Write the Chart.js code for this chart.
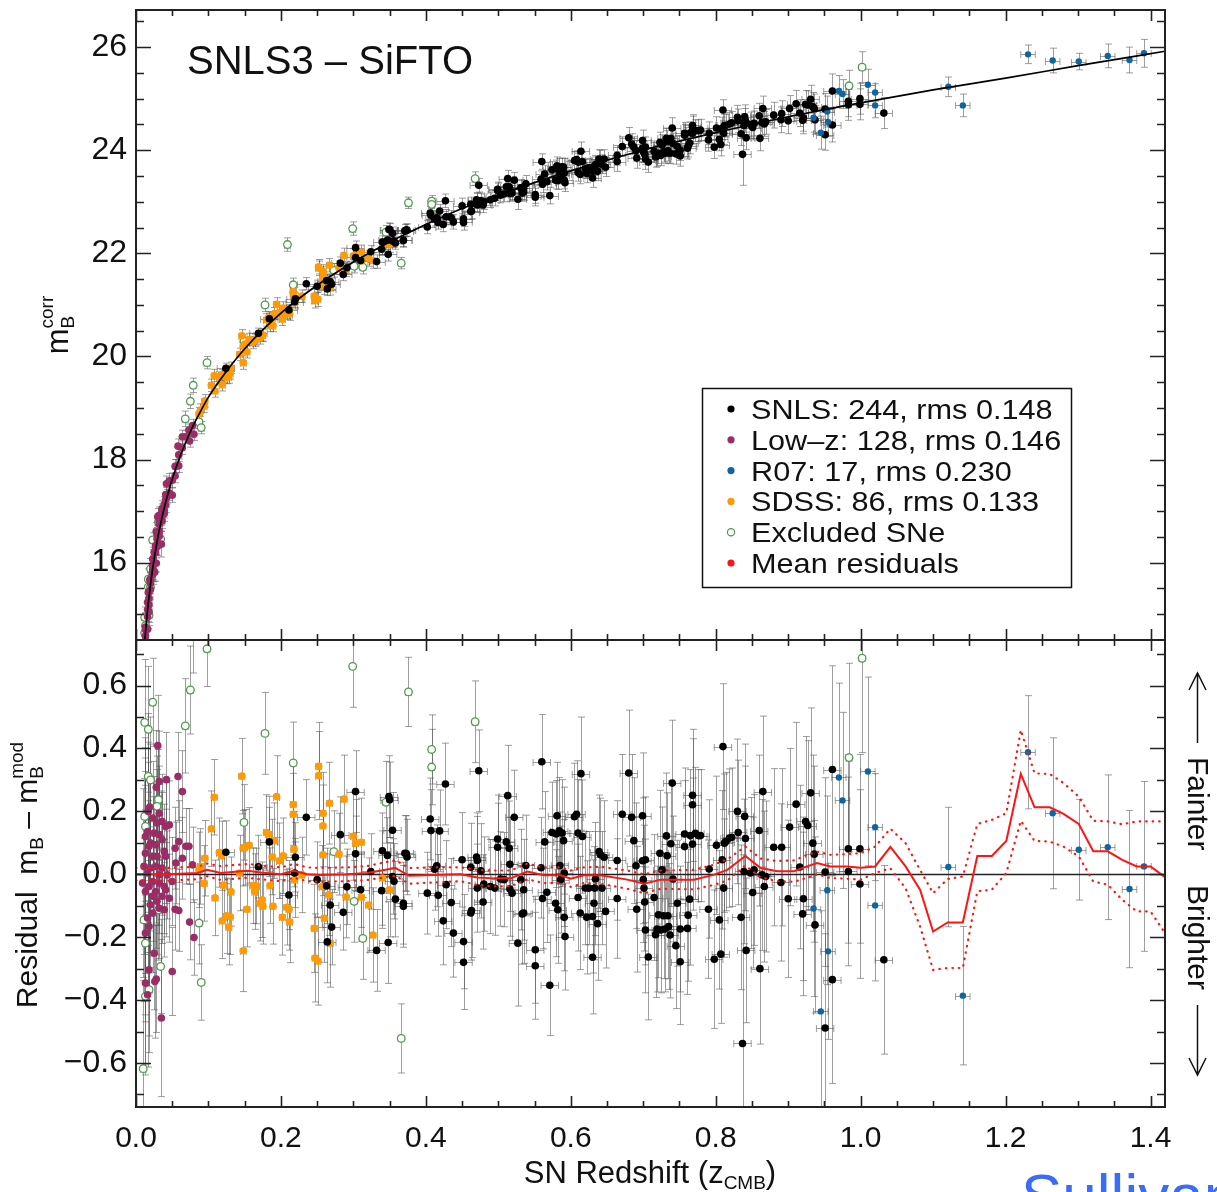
<!DOCTYPE html>
<html>
<head>
<meta charset="utf-8">
<title>SNLS3 - SiFTO Hubble diagram</title>
<script src="https://cdn.jsdelivr.net/npm/chart.js@4.4.0/dist/chart.umd.min.js"></script>
<style>
  html, body { margin: 0; padding: 0; background: #fff; }
  #wrap { position: relative; width: 1217px; height: 1192px; overflow: hidden; background: #fff; }
  #topChart { position: absolute; left: 0; top: 0; }
  #botChart { position: absolute; left: 0; top: 630px; }
</style>
</head>
<body>
<div id="wrap">
  <canvas id="topChart" width="1217" height="650"></canvas>
  <canvas id="botChart" width="1217" height="562"></canvas>
</div>
<script>
(function() {

  var FONT = "'Liberation Sans', Arial, Helvetica, sans-serif";

  // axis ticks
  var zTicks = [0.0, 0.2, 0.4, 0.6, 0.8, 1.0, 1.2, 1.4];
  var magTicks = [16, 18, 20, 22, 24, 26];
  var resTicks = [-0.6, -0.4, -0.2, 0.0, 0.2, 0.4, 0.6];

  var legendLabels = ['SNLS: 244, rms 0.148', 'Low\u2013z: 128, rms 0.146', 'R07: 17, rms 0.230',
    'SDSS: 86, rms 0.133', 'Excluded SNe', 'Mean residuals'];

  // model curve (z, m_B)
  var curveZ = [0.009, 0.010, 0.011, 0.012, 0.013, 0.015, 0.017, 0.020, 0.023, 0.025, 0.028, 0.030, 0.035,
    0.040, 0.045, 0.050, 0.060, 0.070, 0.080, 0.090, 0.100, 0.120, 0.150, 0.200, 0.250, 0.300, 0.350,
    0.400, 0.450, 0.500, 0.600, 0.700, 0.800, 0.900, 1.000, 1.100, 1.200, 1.300, 1.420];
  var curveMag = [13.83, 14.06, 14.27, 14.46, 14.63, 14.95, 15.22, 15.58, 15.89, 16.07, 16.32, 16.48, 16.82,
    17.12, 17.38, 17.62, 18.03, 18.38, 18.69, 18.96, 19.21, 19.62, 20.15, 20.84, 21.38, 21.83, 22.22,
    22.56, 22.87, 23.13, 23.60, 24.00, 24.34, 24.65, 24.92, 25.17, 25.40, 25.64, 25.92];

  // binned mean residuals and their +/- 1 sigma band
  var meanZ = [0.0, 0.043, 0.085, 0.098, 0.117, 0.154, 0.172, 0.2, 0.218, 0.236, 0.255, 0.291, 0.319, 0.358,
    0.377, 0.411, 0.448, 0.471, 0.494, 0.517, 0.540, 0.563, 0.586, 0.600, 0.618, 0.641, 0.678, 0.701, 0.724,
    0.770, 0.797, 0.816, 0.841, 0.862, 0.885, 0.908, 0.922, 0.940, 0.958, 0.981, 1.0, 1.020, 1.041, 1.062,
    1.082, 1.100, 1.120, 1.141, 1.161, 1.181, 1.201, 1.221, 1.240, 1.261, 1.280, 1.301, 1.321, 1.341, 1.361,
    1.381, 1.400, 1.420];
  var meanRes = [0.0, 0.0, 0.004, 0.014, 0.004, 0.011, 0.006, 0.0, 0.011, 0.0, -0.002, 0.0, 0.004, 0.02,
    -0.005, -0.002, 0.0, -0.01, -0.013, -0.013, 0.009, -0.003, -0.003, -0.014, -0.003, -0.003, -0.017, -0.030,
    -0.017, -0.017, -0.002, 0.014, 0.058, 0.020, 0.010, 0.010, 0.022, 0.036, 0.025, 0.025, 0.021, 0.025, 0.087,
    0.025, -0.049, -0.182, -0.153, -0.153, 0.058, 0.058, 0.106, 0.319, 0.213, 0.213, 0.192, 0.160, 0.073,
    0.073, 0.046, 0.025, 0.025, -0.009];
  var meanHi = [0.02, 0.02, 0.024, 0.034, 0.026, 0.033, 0.028, 0.022, 0.033, 0.022, 0.02, 0.022, 0.026, 0.045,
    0.02, 0.022, 0.022, 0.014, 0.012, 0.012, 0.034, 0.022, 0.022, 0.012, 0.022, 0.024, 0.012, 0.0, 0.012,
    0.014, 0.03, 0.048, 0.088, 0.05, 0.042, 0.044, 0.058, 0.072, 0.062, 0.064, 0.067, 0.088, 0.145, 0.099,
    0.014, -0.06, -0.015, -0.007, 0.16, 0.173, 0.194, 0.459, 0.321, 0.319, 0.29, 0.247, 0.17, 0.168, 0.159,
    0.168, 0.168, 0.168];
  var meanLo = [-0.02, -0.02, -0.016, -0.006, -0.018, -0.011, -0.016, -0.022, -0.011, -0.022, -0.024, -0.022,
    -0.018, -0.005, -0.03, -0.026, -0.022, -0.034, -0.038, -0.038, -0.016, -0.028, -0.028, -0.04, -0.028,
    -0.03, -0.046, -0.06, -0.046, -0.048, -0.034, -0.02, 0.028, -0.01, -0.022, -0.024, -0.014, 0.0, -0.012,
    -0.014, -0.017, 0.004, 0.019, -0.044, -0.166, -0.304, -0.298, -0.298, -0.054, -0.049, 0.004, 0.17, 0.106,
    0.104, 0.088, 0.057, -0.023, -0.033, -0.081, -0.118, -0.118, -0.187];

  // supernovae: [z, m_B corr, residual, error]
  var lowzPts = [
    [0.030,16.89,0.409,0.16],[0.058,18.26,0.311,0.14],[0.042,17.53,0.301,0.15],[0.028,16.60,0.277,0.18],
    [0.032,16.92,0.295,0.16],[0.064,18.44,0.263,0.13],[0.019,15.67,0.214,0.20],[0.017,15.42,0.200,0.22],
    [0.032,16.81,0.194,0.15],[0.023,16.07,0.179,0.18],[0.029,16.56,0.163,0.17],[0.036,17.05,0.168,0.15],
    [0.046,17.59,0.157,0.14],[0.041,17.32,0.152,0.14],[0.016,15.23,0.136,0.22],[0.025,16.20,0.131,0.18],
    [0.032,16.75,0.126,0.16],[0.013,14.75,0.120,0.25],[0.036,16.99,0.110,0.15],[0.059,18.09,0.104,0.13],
    [0.020,15.68,0.099,0.20],[0.027,16.33,0.094,0.18],[0.018,15.44,0.089,0.21],[0.054,17.87,0.083,0.13],
    [0.069,18.44,0.089,0.12],[0.073,18.57,0.089,0.12],[0.039,17.13,0.073,0.15],[0.013,14.70,0.067,0.26],
    [0.023,15.95,0.057,0.19],[0.029,16.46,0.057,0.17],[0.041,17.23,0.057,0.15],[0.055,17.87,0.036,0.13],
    [0.064,18.23,0.051,0.13],[0.078,18.66,0.030,0.12],[0.011,14.30,0.025,0.28],[0.020,15.60,0.020,0.20],
    [0.027,16.27,0.025,0.18],[0.036,16.90,0.020,0.15],[0.016,15.09,0.004,0.23],[0.032,16.62,-0.002,0.16],
    [0.043,17.28,-0.002,0.14],[0.023,15.87,-0.023,0.19],[0.009,13.80,-0.028,0.30],[0.032,16.59,-0.028,0.16],
    [0.018,15.31,-0.039,0.21],[0.039,17.02,-0.039,0.15],[0.050,17.60,-0.023,0.14],[0.013,14.58,-0.055,0.26],
    [0.027,16.19,-0.055,0.18],[0.041,17.12,-0.049,0.15],[0.023,15.82,-0.070,0.19],[0.036,16.81,-0.070,0.15],
    [0.046,17.35,-0.076,0.14],[0.029,16.31,-0.086,0.17],[0.020,15.48,-0.097,0.20],[0.032,16.51,-0.108,0.16],
    [0.039,16.95,-0.113,0.15],[0.054,17.68,-0.111,0.13],[0.059,17.88,-0.115,0.13],[0.023,15.77,-0.123,0.19],
    [0.016,14.95,-0.139,0.23],[0.018,15.18,-0.166,0.21],[0.013,14.44,-0.187,0.26],[0.025,15.82,-0.251,0.18],
    [0.018,15.05,-0.304,0.21],[0.013,14.28,-0.346,0.26],[0.026,15.82,-0.341,0.18],[0.028,15.99,-0.333,0.17],
    [0.016,14.71,-0.383,0.23],[0.050,17.31,-0.309,0.14],[0.074,18.36,-0.152,0.12],[0.080,18.49,-0.201,0.12],
    [0.035,16.36,-0.457,0.25]
  ];

  var sdssPts = [
    [0.089,18.96,0.025,0.12],[0.087,18.89,0.014,0.12],[0.094,19.03,-0.029,0.12],[0.095,19.14,0.051,0.12],
    [0.104,19.44,0.145,0.12],[0.108,19.63,0.245,0.12],[0.115,19.59,0.069,0.11],[0.118,19.64,0.059,0.11],
    [0.109,19.33,-0.075,0.12],[0.119,19.45,-0.148,0.12],[0.121,19.61,-0.035,0.11],[0.125,19.59,-0.132,0.12],
    [0.128,19.60,-0.168,0.12],[0.131,19.78,-0.055,0.11],[0.130,19.68,-0.135,0.12],[0.143,20.04,0.004,0.12],
    [0.146,20.40,0.312,0.12],[0.148,20.20,0.083,0.12],[0.148,19.88,-0.243,0.13],[0.150,20.24,0.086,0.12],
    [0.156,20.33,0.092,0.12],[0.153,20.09,-0.111,0.12],[0.161,20.27,-0.036,0.12],[0.164,20.31,-0.055,0.12],
    [0.166,20.34,-0.037,0.12],[0.171,20.36,-0.092,0.12],[0.174,20.42,-0.081,0.12],[0.175,20.41,-0.102,0.12],
    [0.180,20.71,0.133,0.12],[0.183,20.75,0.128,0.12],[0.185,20.60,-0.036,0.12],[0.189,20.60,-0.102,0.12],
    [0.188,20.74,0.055,0.12],[0.191,20.83,0.107,0.12],[0.194,21.01,0.247,0.13],[0.198,20.85,0.043,0.12],
    [0.203,20.94,0.059,0.12],[0.202,20.72,-0.137,0.12],[0.208,20.84,-0.105,0.12],[0.211,20.86,-0.111,0.13],
    [0.212,20.83,-0.151,0.13],[0.217,21.26,0.222,0.13],[0.217,21.23,0.191,0.13],[0.218,21.13,0.080,0.12],
    [0.219,21.04,-0.017,0.12],[0.229,21.17,-0.002,0.12],[0.246,21.17,-0.172,0.14],[0.251,21.11,-0.276,0.14],
    [0.247,21.08,-0.266,0.14],[0.252,21.74,0.343,0.14],[0.252,21.71,0.314,0.14],[0.258,21.65,0.194,0.13],
    [0.258,21.61,0.154,0.13],[0.258,21.52,0.062,0.13],[0.260,21.34,-0.140,0.14],[0.267,21.77,0.226,0.13],
    [0.257,21.41,-0.039,0.13],[0.266,21.47,-0.065,0.13],[0.268,21.33,-0.219,0.14],[0.280,21.72,0.064,0.13],
    [0.287,21.96,0.239,0.14],[0.290,21.68,-0.072,0.13],[0.300,21.95,0.121,0.14],[0.303,21.95,0.098,0.14],
    [0.311,22.02,0.102,0.14],[0.311,21.85,-0.073,0.14],[0.321,21.90,-0.098,0.15],[0.327,21.86,-0.193,0.15],
    [0.340,22.13,-0.012,0.15],[0.350,22.17,-0.049,0.15]
  ];

  var snlsPts = [
    [0.124,19.77,0.070,0.10],[0.169,20.45,0.024,0.10],[0.184,20.73,0.103,0.11],[0.211,20.90,-0.066,0.11],
    [0.220,21.12,0.054,0.11],[0.219,21.06,0.004,0.11],[0.235,21.41,0.181,0.12],[0.250,21.36,-0.017,0.12],
    [0.263,21.47,-0.037,0.12],[0.268,21.45,-0.098,0.12],[0.264,21.31,-0.215,0.13],[0.270,21.40,-0.168,0.12],
    [0.282,21.81,0.126,0.12],[0.286,21.59,-0.121,0.12],[0.291,21.72,-0.040,0.12],[0.303,22.11,0.263,0.13],
    [0.303,21.92,0.065,0.12],[0.310,21.86,-0.049,0.12],[0.324,22.03,0.009,0.12],[0.332,21.84,-0.242,0.13],
    [0.339,22.08,-0.052,0.12],[0.340,22.22,0.075,0.12],[0.347,22.26,0.060,0.12],[0.348,21.98,-0.217,0.13],
    [0.349,22.46,0.247,0.13],[0.350,22.46,0.237,0.12],[0.354,22.39,0.140,0.12],[0.354,22.24,-0.007,0.12],
    [0.356,22.24,-0.022,0.12],[0.358,22.20,-0.079,0.12],[0.369,22.26,-0.092,0.13],[0.369,22.25,-0.102,0.13],
    [0.371,22.44,0.067,0.12],[0.373,22.45,0.066,0.12],[0.374,22.45,0.055,0.12],[0.402,22.51,-0.060,0.13],
    [0.406,22.78,0.176,0.13],[0.407,22.74,0.139,0.13],[0.412,22.66,0.016,0.13],[0.415,22.69,0.027,0.13],
    [0.417,22.60,-0.067,0.13],[0.419,22.82,0.138,0.13],[0.424,22.56,-0.148,0.14],[0.427,23.02,0.287,0.13],
    [0.428,22.71,-0.033,0.14],[0.435,22.69,-0.090,0.14],[0.438,22.61,-0.187,0.14],
    [0.450,22.92,0.046,0.15],[0.452,22.67,-0.214,0.15],[0.452,22.60,-0.280,0.15],[0.462,22.95,0.022,0.14],
    [0.462,22.81,-0.123,0.15],[0.463,22.82,-0.115,0.15],[0.470,23.04,0.055,0.14],[0.471,23.02,0.044,0.14],
    [0.471,22.94,-0.044,0.14],[0.473,23.32,0.329,0.13],[0.476,23.02,0.011,0.15],[0.479,22.94,-0.088,0.15],
    [0.480,23.00,-0.031,0.15],[0.489,23.04,-0.039,0.15],[0.495,23.07,-0.044,0.15],[0.499,23.24,0.112,0.14],
    [0.499,23.22,0.086,0.14],[0.503,23.13,-0.015,0.15],[0.508,23.15,-0.017,0.15],[0.511,23.29,0.103,0.15],
    [0.513,23.45,0.250,0.16],[0.515,23.29,0.083,0.15],[0.516,23.24,0.032,0.15],[0.516,23.16,-0.047,0.15],
    [0.519,23.17,-0.060,0.15],[0.522,23.42,0.181,0.15],[0.527,23.05,-0.219,0.20],[0.531,23.27,-0.017,0.16],
    [0.533,23.17,-0.126,0.16],[0.535,23.19,-0.123,0.16],[0.535,23.26,-0.049,0.16],[0.538,23.35,0.028,0.16],
    [0.551,23.14,-0.240,0.17],[0.551,23.09,-0.291,0.17],[0.559,23.44,0.021,0.16],[0.560,23.78,0.358,0.15],
    [0.561,23.34,-0.077,0.16],[0.564,23.54,0.103,0.16],[0.567,23.39,-0.057,0.16],[0.571,23.12,-0.353,0.16],
    [0.574,23.62,0.133,0.16],[0.579,23.42,-0.092,0.17],[0.580,23.64,0.128,0.17],[0.581,23.70,0.186,0.17],
    [0.582,23.41,-0.113,0.17],[0.584,23.67,0.138,0.17],[0.585,23.56,0.028,0.17],[0.586,23.52,-0.017,0.17],
    [0.588,23.68,0.131,0.17],[0.590,23.67,0.107,0.17],[0.591,23.42,-0.137,0.17],[0.592,23.37,-0.198,0.17],
    [0.591,23.56,0.004,0.17],[0.605,23.80,0.183,0.17],[0.608,23.82,0.191,0.17],[0.610,23.77,0.131,0.17],
    [0.610,23.57,-0.074,0.17],[0.613,23.53,-0.123,0.18],[0.614,23.98,0.320,0.18],[0.616,23.78,0.120,0.18],
    [0.620,23.64,-0.044,0.18],[0.622,23.55,-0.137,0.18],[0.625,23.66,-0.044,0.18],[0.630,23.59,-0.134,0.18],
    [0.630,23.46,-0.264,0.18],[0.632,23.64,-0.092,0.18],[0.633,23.69,-0.044,0.18],[0.634,23.72,-0.015,0.18],
    [0.637,23.59,-0.157,0.18],[0.639,23.83,0.072,0.18],[0.641,23.82,0.062,0.18],[0.643,23.73,-0.044,0.18],
    [0.646,23.83,0.054,0.18],[0.648,23.67,-0.118,0.18],
    [0.664,23.90,0.044,0.19],[0.664,23.78,-0.077,0.19],[0.671,24.07,0.191,0.19],[0.680,24.24,0.322,0.20],
    [0.684,24.12,0.181,0.20],[0.687,24.06,0.107,0.20],[0.690,23.99,0.027,0.20],[0.691,23.85,-0.111,0.20],
    [0.699,24.19,0.186,0.20],[0.699,24.04,0.043,0.20],[0.700,23.98,-0.017,0.20],[0.701,23.96,-0.044,0.20],
    [0.702,23.92,-0.088,0.20],[0.703,24.06,0.046,0.20],[0.703,23.83,-0.177,0.20],[0.707,23.77,-0.263,0.20],
    [0.715,23.98,-0.074,0.20],[0.717,23.87,-0.192,0.20],[0.719,23.89,-0.174,0.20],[0.721,23.94,-0.129,0.20],
    [0.723,24.15,0.067,0.20],[0.724,23.90,-0.177,0.20],[0.726,24.10,0.014,0.20],[0.728,23.97,-0.132,0.20],
    [0.730,23.94,-0.174,0.20],[0.732,24.23,0.122,0.20],[0.733,24.18,0.059,0.20],[0.734,23.99,-0.132,0.20],
    [0.735,23.95,-0.166,0.20],[0.737,23.94,-0.193,0.20],[0.738,24.23,0.097,0.20],[0.740,24.43,0.290,0.20],
    [0.741,24.13,-0.015,0.20],[0.745,23.93,-0.227,0.20],[0.747,24.07,-0.092,0.20],[0.751,24.00,-0.174,0.20],
    [0.751,23.89,-0.278,0.20],[0.757,24.33,0.128,0.21],[0.757,24.29,0.088,0.21],[0.761,24.04,-0.172,0.21],
    [0.762,24.08,-0.130,0.21],[0.764,24.14,-0.079,0.21],[0.765,24.34,0.123,0.21],[0.768,24.48,0.251,0.21],
    [0.768,24.45,0.221,0.21],[0.768,24.33,0.096,0.21],[0.772,24.38,0.130,0.21],[0.776,24.38,0.123,0.21],
    [0.779,24.39,0.123,0.21],[0.790,24.20,-0.111,0.22],[0.791,24.33,0.017,0.22],[0.798,24.06,-0.270,0.22],
    [0.801,24.43,0.092,0.22],[0.805,24.21,-0.145,0.22],[0.807,24.11,-0.254,0.22],[0.809,24.42,0.046,0.22],
    [0.810,24.78,0.406,0.20],[0.811,24.33,-0.044,0.22],[0.812,24.48,0.099,0.22],[0.814,24.48,0.104,0.22],
    [0.819,24.51,0.115,0.22],[0.822,24.53,0.118,0.22],[0.830,24.64,0.200,0.23],[0.831,24.57,0.133,0.23],
    [0.835,24.32,-0.137,0.23],[0.837,23.92,-0.538,0.60],[0.839,24.48,0.009,0.23],[0.840,24.65,0.184,0.23],
    [0.841,24.58,0.114,0.23],[0.842,24.24,-0.242,0.23],[0.848,24.50,0.004,0.24],[0.851,24.44,-0.058,0.24],
    [0.853,24.52,0.014,0.24],[0.860,24.67,0.139,0.24],[0.861,24.23,-0.300,0.24],[0.864,24.54,-0.002,0.24],
    [0.865,24.81,0.263,0.24],[0.867,24.51,-0.039,0.24],[0.869,24.55,-0.007,0.24],[0.880,24.68,0.086,0.25],
    [0.890,24.59,-0.026,0.25],[0.891,24.71,0.086,0.25],[0.900,24.57,-0.078,0.25],[0.902,24.81,0.150,0.25],
    [0.911,24.90,0.223,0.26],[0.916,24.72,0.023,0.26],[0.920,24.58,-0.126,0.26],[0.921,24.63,-0.078,0.26],
    [0.924,24.89,0.168,0.27],[0.927,24.88,0.155,0.27],[0.931,24.99,0.259,0.27],[0.934,24.84,0.099,0.28],
    [0.936,24.81,0.064,0.28],[0.937,24.59,-0.161,0.28],[0.951,24.80,0.007,0.30],[0.951,24.30,-0.489,0.30],
    [0.961,25.15,0.333,0.33],[0.961,24.49,-0.335,0.33],[0.983,24.95,0.081,0.30],[0.983,24.88,0.009,0.30],
    [0.999,25.00,0.081,0.30],[0.999,24.89,-0.031,0.30],[1.032,24.72,-0.272,0.30]
  ];

  var r07Pts = [
    [0.935,24.63,-0.109,0.28],[0.945,24.34,-0.436,0.32],[0.954,24.75,-0.051,0.30],[0.955,24.55,-0.245,0.28],
    [0.970,25.15,0.308,0.30],[0.975,25.09,0.235,0.28],[1.010,25.27,0.327,0.30],[1.020,25.12,0.150,0.17],
    [1.020,24.87,-0.099,0.24],[1.121,25.23,0.023,0.19],[1.141,24.87,-0.386,0.22],[1.231,25.86,0.388,0.18],
    [1.265,25.74,0.194,0.24],[1.301,25.72,0.078,0.16],[1.341,25.83,0.086,0.23],[1.371,25.75,-0.047,0.25],
    [1.391,25.88,0.025,0.27]
  ];

  var exclPts = [
    [0.012,14.94,0.483,0.20],[0.017,15.68,0.461,0.20],[0.023,16.44,0.547,0.14],[0.017,15.53,0.311,0.20],
    [0.020,15.88,0.300,0.20],[0.031,16.79,0.237,0.16],[0.029,16.62,0.216,0.16],[0.012,14.64,0.184,0.25],
    [0.013,14.78,0.152,0.25],[0.034,16.87,0.115,0.15],[0.020,15.53,-0.049,0.20],[0.031,16.44,-0.113,0.16],
    [0.011,14.13,-0.145,0.26],[0.013,14.41,-0.219,0.25],[0.034,16.46,-0.293,0.15],[0.018,14.98,-0.367,0.20],
    [0.013,14.24,-0.388,0.25],[0.010,13.44,-0.618,0.28],[0.068,18.79,0.472,0.15],[0.075,19.13,0.586,0.14],
    [0.079,19.44,0.780,0.14],[0.098,19.88,0.717,0.12],[0.087,18.73,-0.155,0.13],[0.090,18.62,-0.344,0.12],
    [0.149,20.30,0.165,0.12],[0.178,21.00,0.448,0.13],[0.209,22.17,1.220,0.13],[0.217,21.39,0.354,0.13],
    [0.273,21.67,0.072,0.13],[0.299,22.48,0.661,0.13],[0.301,21.75,-0.086,0.13],[0.313,21.73,-0.204,0.13],
    [0.345,22.41,0.229,0.13],[0.376,22.98,0.580,0.11],[0.366,21.81,-0.522,0.11],[0.408,23.01,0.397,0.11],
    [0.408,22.95,0.341,0.12],[0.468,23.45,0.485,0.13],[0.984,25.25,0.371,0.30],[1.002,25.61,0.687,0.30]
  ];

  // redshift error per sample
  var snlsZErr = 0.012, lowzZErr = 0.001, r07ZErr = 0.01, sdssZErr = 0.004, exclZErr = 0.004;

  var COL = {
    snls: '#000000',
    lowz: '#9a2d66',
    r07: '#0d65a2',
    sdss: '#ff9b00',
    excl: '#4f9a4f',
    mean: '#ff1414'
  };

  function toPoints(list, zErr, useRes) {
    return list.map(function(p) {
      return { x: p[0], y: useRes ? p[2] : p[1], ey: p[3], ex: zErr };
    });
  }

  function toLine(xs, ys) {
    return xs.map(function(v, i) { return { x: v, y: ys[i] }; });
  }

  function pointSets(useRes) {
    return [
      { label: 'R07', data: toPoints(r07Pts, r07ZErr, useRes), backgroundColor: COL.r07, borderWidth: 0,
        pointRadius: 3.2, errorBars: true, order: 2 },
      { label: 'SNLS', data: toPoints(snlsPts, snlsZErr, useRes), backgroundColor: COL.snls, borderWidth: 0,
        pointRadius: 3.8, errorBars: true, order: 3 },
      { label: 'SDSS', data: toPoints(sdssPts, sdssZErr, useRes), backgroundColor: COL.sdss, borderWidth: 0,
        pointRadius: 3.8, errorBars: true, order: 4 },
      { label: 'Low-z', data: toPoints(lowzPts, lowzZErr, useRes), backgroundColor: COL.lowz, borderWidth: 0,
        pointRadius: 3.8, errorBars: true, order: 5 },
      { label: 'Excluded', data: toPoints(exclPts, exclZErr, useRes), backgroundColor: '#ffffff',
        borderColor: COL.excl, borderWidth: 1.3, pointRadius: 3.8, errorBars: true, order: 6 }
    ];
  }

  var errorBarPlugin = {
    id: 'errorBars',
    beforeDatasetsDraw: function(chart) {
      var ctx = chart.ctx, a = chart.chartArea;
      var xs = chart.scales.x, ys = chart.scales.y;
      ctx.save();
      ctx.beginPath();
      ctx.rect(a.left, a.top, a.right - a.left, a.bottom - a.top);
      ctx.clip();
      ctx.strokeStyle = 'rgba(80,80,80,0.55)';
      ctx.lineWidth = 1;
      chart.data.datasets.forEach(function(ds) {
        if (!ds.errorBars) return;
        ds.data.forEach(function(d) {
          var px = Math.round(xs.getPixelForValue(d.x)) + 0.5;
          var py = Math.round(ys.getPixelForValue(d.y)) + 0.5;
          var y1 = ys.getPixelForValue(d.y + d.ey), y2 = ys.getPixelForValue(d.y - d.ey);
          var x1 = xs.getPixelForValue(d.x - d.ex), x2 = xs.getPixelForValue(d.x + d.ex);
          ctx.beginPath();
          ctx.moveTo(px, y1); ctx.lineTo(px, y2);
          ctx.moveTo(px - 3.5, y1); ctx.lineTo(px + 3.5, y1);
          ctx.moveTo(px - 3.5, y2); ctx.lineTo(px + 3.5, y2);
          if (x2 - x1 > 4) {
            ctx.moveTo(x1, py); ctx.lineTo(x2, py);
            ctx.moveTo(x1, py - 3.5); ctx.lineTo(x1, py + 3.5);
            ctx.moveTo(x2, py - 3.5); ctx.lineTo(x2, py + 3.5);
          }
          ctx.stroke();
        });
      });
      ctx.restore();
    }
  };

  // frame with inward ticks on all four sides
  function drawFrame(chart, yMajor, yMinorStep, yMinorFrom, yMinorTo) {
    var ctx = chart.ctx, a = chart.chartArea;
    var xs = chart.scales.x, ys = chart.scales.y;
    ctx.save();
    ctx.strokeStyle = '#222';
    ctx.lineWidth = 1.6;
    ctx.beginPath();
    var k, v, p, len;
    for (k = 0; k <= 28; k++) {
      v = k * 0.05;
      p = Math.round(xs.getPixelForValue(v)) + 0.5;
      len = (k % 4 === 0) ? 11 : 6;
      ctx.moveTo(p, a.bottom); ctx.lineTo(p, a.bottom - len);
      ctx.moveTo(p, a.top); ctx.lineTo(p, a.top + len);
    }
    var n = Math.round((yMinorTo - yMinorFrom) / yMinorStep);
    for (k = 0; k <= n; k++) {
      v = yMinorFrom + k * yMinorStep;
      p = Math.round(ys.getPixelForValue(v)) + 0.5;
      var isMajor = yMajor.some(function(m) { return Math.abs(m - v) < 1e-6; });
      len = isMajor ? 15 : 8;
      ctx.moveTo(a.left, p); ctx.lineTo(a.left + len, p);
      ctx.moveTo(a.right, p); ctx.lineTo(a.right - len, p);
    }
    ctx.stroke();
    ctx.lineWidth = 2;
    ctx.strokeRect(a.left, a.top, a.right - a.left, a.bottom - a.top);
    ctx.restore();
  }

  // text runs with sub/superscripts: [text, size, dy, advance]
  function runsWidth(ctx, runs) {
    var w = 0, pend = 0;
    runs.forEach(function(r) {
      ctx.font = r[1] + 'px ' + FONT;
      var rw = ctx.measureText(r[0]).width;
      if (r[3] === false) { pend = Math.max(pend, rw); }
      else { w += Math.max(rw, pend); pend = 0; }
    });
    return w + pend;
  }

  function drawRuns(ctx, runs, x, y) {
    var pend = 0;
    runs.forEach(function(r) {
      ctx.font = r[1] + 'px ' + FONT;
      ctx.fillText(r[0], x, y + r[2]);
      var rw = ctx.measureText(r[0]).width;
      if (r[3] === false) { pend = Math.max(pend, rw); }
      else { x += Math.max(rw, pend); pend = 0; }
    });
  }

  function yAxisCfg(min, max, ticks, fmt) {
    return {
      type: 'linear', min: min, max: max,
      grid: { display: false, drawTicks: false }, border: { display: false },
      afterBuildTicks: function(s) { s.ticks = ticks.map(function(v) { return { value: v }; }); },
      afterFit: function(s) { s.width = 136; s.paddingTop = 0; s.paddingBottom = 0; },
      ticks: { padding: 9, color: '#111', font: { family: FONT, size: 32 }, autoSkip: false, callback: fmt }
    };
  }

  var topDeco = {
    id: 'topDeco',
    afterDraw: function(chart) {
      var ctx = chart.ctx;
      drawFrame(chart, magTicks, 0.5, 15.0, 26.5);
      ctx.save();
      ctx.fillStyle = '#111';
      ctx.textBaseline = 'alphabetic';
      ctx.textAlign = 'left';
      ctx.font = '40px ' + FONT;
      ctx.fillText('SNLS3 \u2013 SiFTO', 187, 74);

      // y title
      var runs = [['m', 31, 0], ['B', 19, 6, false], ['corr', 19, -15]];
      ctx.translate(68, 325);
      ctx.rotate(-Math.PI / 2);
      drawRuns(ctx, runs, -runsWidth(ctx, runs) / 2, 0);
      ctx.restore();

      // legend
      ctx.save();
      ctx.fillStyle = '#fff';
      ctx.fillRect(702, 388, 369, 199);
      ctx.strokeStyle = '#111';
      ctx.lineWidth = 1.5;
      ctx.strokeRect(702.5, 388.5, 369, 199);
      var cols = [COL.snls, COL.lowz, COL.r07, COL.sdss, null, COL.mean];
      ctx.font = '28px ' + FONT;
      legendLabels.forEach(function(t, i) {
        var cy = 409 + i * 30.8;
        ctx.beginPath();
        ctx.arc(731, cy, 3.6, 0, Math.PI * 2);
        if (cols[i]) { ctx.fillStyle = cols[i]; ctx.fill(); }
        else { ctx.strokeStyle = COL.excl; ctx.lineWidth = 1.2; ctx.stroke(); }
        ctx.fillStyle = '#111';
        ctx.save();
        ctx.translate(751, cy + 10);
        ctx.scale(1.095, 1);
        ctx.fillText(t, 0, 0);
        ctx.restore();
      });
      ctx.restore();
    }
  };

  var botDeco = {
    id: 'botDeco',
    beforeDatasetsDraw: function(chart) {
      var ctx = chart.ctx, a = chart.chartArea;
      var y0 = Math.round(chart.scales.y.getPixelForValue(0)) + 0.5;
      ctx.save();
      ctx.strokeStyle = '#222';
      ctx.lineWidth = 1.3;
      ctx.beginPath();
      ctx.moveTo(a.left, y0); ctx.lineTo(a.right, y0);
      ctx.stroke();
      ctx.restore();
    },
    afterDraw: function(chart) {
      var ctx = chart.ctx;
      drawFrame(chart, resTicks, 0.1, -0.7, 0.7);
      ctx.save();
      ctx.fillStyle = '#111';
      ctx.textBaseline = 'alphabetic';
      ctx.textAlign = 'left';

      // y title
      var runs = [['Residual  m', 30, 0], ['B', 19, 6], [' \u2013 m', 30, 0], ['B', 19, 6, false], ['mod', 19, -14]];
      ctx.save();
      ctx.translate(37, 875 - 630);
      ctx.rotate(-Math.PI / 2);
      drawRuns(ctx, runs, -runsWidth(ctx, runs) / 2, 0);
      ctx.restore();

      // x title
      var xr = [['SN Redshift (z', 31, 0], ['CMB', 19, 6], [')', 31, 0]];
      drawRuns(ctx, xr, 650 - runsWidth(ctx, xr) / 2, 1183 - 630);

      // right side annotation
      ctx.font = '30px ' + FONT;
      ctx.save();
      ctx.translate(1188, 757 - 630);
      ctx.rotate(Math.PI / 2);
      ctx.fillText('Fainter', 0, 0);
      ctx.restore();
      ctx.save();
      ctx.translate(1188, 885 - 630);
      ctx.rotate(Math.PI / 2);
      ctx.fillText('Brighter', 0, 0);
      ctx.restore();

      ctx.strokeStyle = '#111';
      ctx.lineWidth = 1.5;
      ctx.beginPath();
      ctx.moveTo(1197.5, 743 - 630); ctx.lineTo(1197.5, 673 - 630);
      ctx.moveTo(1189, 690 - 630); ctx.lineTo(1197.5, 673 - 630); ctx.lineTo(1206, 690 - 630);
      ctx.moveTo(1197.5, 1005 - 630); ctx.lineTo(1197.5, 1075 - 630);
      ctx.moveTo(1189, 1058 - 630); ctx.lineTo(1197.5, 1075 - 630); ctx.lineTo(1206, 1058 - 630);
      ctx.stroke();

      // citation, cut at the page edge
      ctx.fillStyle = '#3b6cf6';
      ctx.font = '62px ' + FONT;
      ctx.fillText('Sullivan et al.', 1021, 1217 - 630);
      ctx.restore();
    }
  };

  var topSets = [
    { label: 'model', data: toLine(curveZ, curveMag), showLine: true, borderColor: '#000', borderWidth: 1.7,
      pointRadius: 0, cubicInterpolationMode: 'monotone', fill: false, order: 0 }
  ].concat(pointSets(false));

  var botSets = [
    { label: 'mean', data: toLine(meanZ, meanRes), showLine: true, borderColor: COL.mean, borderWidth: 2,
      pointRadius: 0, fill: false, order: 0 },
    { label: 'meanHi', data: toLine(meanZ, meanHi), showLine: true, borderColor: COL.mean, borderWidth: 2.2,
      borderDash: [0.5, 6], borderCapStyle: 'round', pointRadius: 0, fill: false, order: 1 },
    { label: 'meanLo', data: toLine(meanZ, meanLo), showLine: true, borderColor: COL.mean, borderWidth: 2.2,
      borderDash: [0.5, 6], borderCapStyle: 'round', pointRadius: 0, fill: false, order: 1 }
  ].concat(pointSets(true));

  new Chart(document.getElementById('topChart').getContext('2d'), {
    type: 'scatter',
    data: { datasets: topSets },
    options: {
      responsive: false,
      animation: false,
      layout: { padding: { left: 0, top: 10, right: 52, bottom: 10 } },
      plugins: { legend: { display: false }, tooltip: { enabled: false } },
      scales: {
        x: { type: 'linear', min: 0, max: 1.42, display: false },
        y: yAxisCfg(14.5, 26.72, magTicks, function(v) { return String(v); })
      }
    },
    plugins: [errorBarPlugin, topDeco]
  });

  new Chart(document.getElementById('botChart').getContext('2d'), {
    type: 'scatter',
    data: { datasets: botSets },
    options: {
      responsive: false,
      animation: false,
      layout: { padding: { left: 0, top: 10, right: 52, bottom: 0 } },
      plugins: { legend: { display: false }, tooltip: { enabled: false } },
      scales: {
        x: {
          type: 'linear', min: 0, max: 1.42,
          grid: { display: false, drawTicks: false }, border: { display: false },
          afterBuildTicks: function(s) { s.ticks = zTicks.map(function(v) { return { value: v }; }); },
          afterFit: function(s) { s.height = 85; s.paddingLeft = 0; s.paddingRight = 0; },
          ticks: { padding: 14, color: '#111', font: { family: FONT, size: 30 }, autoSkip: false, maxRotation: 0,
            callback: function(v) { return v.toFixed(1); } }
        },
        y: yAxisCfg(-0.74, 0.745, resTicks, function(v) {
          return (v < 0 ? '\u2212' : '') + Math.abs(v).toFixed(1);
        })
      }
    },
    plugins: [errorBarPlugin, botDeco]
  });

})();
</script>
</body>
</html>
